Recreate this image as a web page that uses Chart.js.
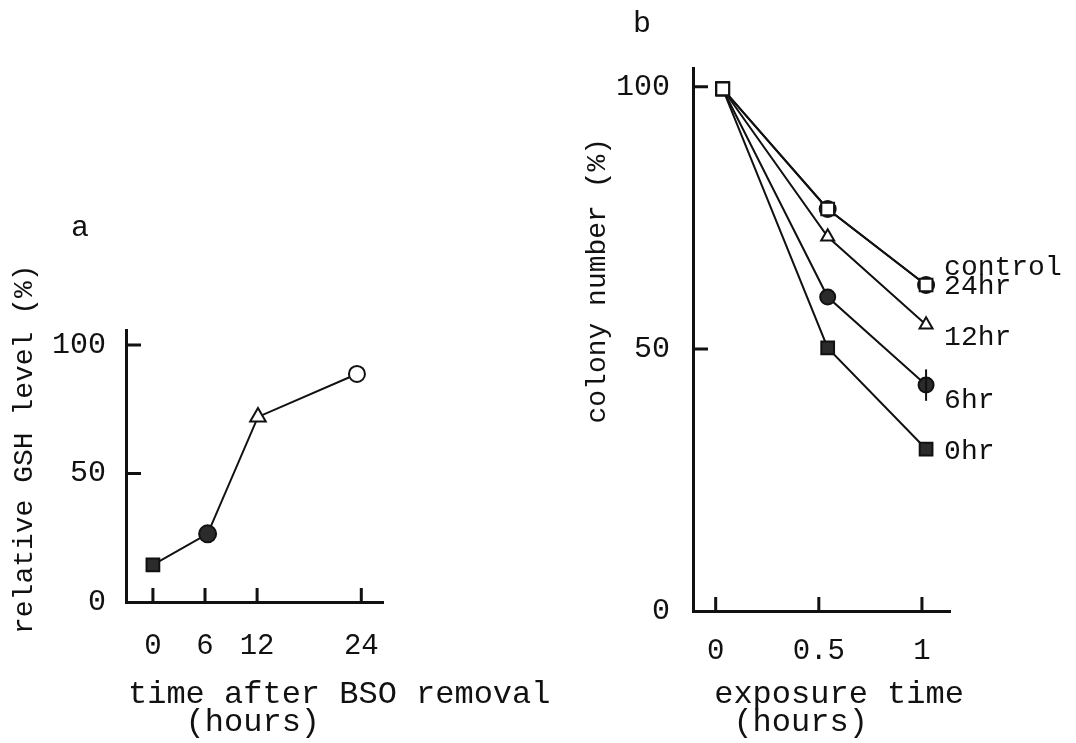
<!DOCTYPE html>
<html lang="en">

<head>
  <meta charset="UTF-8" />
  <title>GSH level | colony number</title>
  <script src="https://cdn.jsdelivr.net/npm/chart.js"></script>
  <style>
    body { margin: 0; background: #fff; }
    .wrap { position: relative; width: 1076px; height: 743px; }
    canvas { position: absolute; top: 0; }
    #graficoA { left: 0; }
    #graficoB { left: 560px; }
    .painel { position: absolute; font: 30px "Liberation Mono", "Courier New", monospace; line-height: 30px; color: #111; }
  </style>
</head>

<body>
  <div class="wrap">
    <canvas id="graficoA" width="560" height="743"></canvas>
    <canvas id="graficoB" width="516" height="743"></canvas>
    <div class="painel" style="left:71px; top:213px">a</div>
    <div class="painel" style="left:633px; top:9px">b</div>
  </div>

  <script>
    // painel a: GSH relativo apos remocao do BSO
    var horasA = [0, 6.3, 12.1, 23.5];
    var gshA = [14.4, 26.5, 72, 88.7];
    var xTicksA = [0, 6, 12, 24];
    var yTicksA = [0, 50, 100];

    // painel b: numero de colonias x tempo de exposicao
    var exposicaoB = [0.034, 0.543, 1.02];
    var controle = [99.6, 76.7, 62.2];
    var h24 = [99.6, 76.7, 62.2];
    var h12 = [99.6, 71.4, 54.6];
    var h6 = [99.6, 59.9, 43.1];
    var h0 = [99.6, 50.2, 30.9];
    var erro6 = [0, 0, 3];
    var xTicksB = [0, 0.5, 1];
    var yTicksB = [0, 50, 100];

    var FONTE = '"Liberation Mono", "Courier New", monospace';
    var PRETO = "#111";
    var CHEIO = "#2b2b2b";

    function pontos(xs, ys) {
      return xs.map(function (x, i) { return { x: x, y: ys[i] }; });
    }

    function fixarTicks(lista) {
      return function (s) {
        s.ticks = lista.map(function (v) { return { value: v }; });
      };
    }

    // ticks desenhados para dentro, como no original
    var marcasInternas = {
      id: "marcasInternas",
      afterDraw: function (chart) {
        var ctx = chart.ctx;
        var area = chart.chartArea;
        var sx = chart.scales.x;
        var sy = chart.scales.y;
        ctx.save();
        ctx.strokeStyle = PRETO;
        ctx.lineWidth = 3;
        ctx.beginPath();
        sx.ticks.forEach(function (t) {
          var px = sx.getPixelForValue(t.value);
          ctx.moveTo(px, area.bottom);
          ctx.lineTo(px, area.bottom - 14);
        });
        sy.ticks.forEach(function (t) {
          if (t.value == sy.min) return;
          var py = sy.getPixelForValue(t.value);
          ctx.moveTo(area.left, py);
          ctx.lineTo(area.left + 15, py);
        });
        ctx.stroke();

        // titulo do eixo x sem limite de largura (o do Chart.js comprime o texto)
        var t = sx.options.title;
        var lh = 28;
        var linhas = [].concat(t.text);
        ctx.font = t.font.size + "px " + FONTE;
        ctx.fillStyle = PRETO;
        ctx.textAlign = "left";
        ctx.textBaseline = "middle";
        var y0 = sx.bottom - t.padding.bottom - lh / 2 - lh * (linhas.length - 1);
        linhas.forEach(function (linha, i) {
          ctx.fillText(linha, sx.left + 2, y0 + i * lh);
        });
        ctx.restore();
      }
    };

    // barra de erro do 6hr e nomes das series
    var rotulosB = {
      id: "rotulosB",
      afterDatasetsDraw: function (chart) {
        var ctx = chart.ctx;
        var sx = chart.scales.x;
        var sy = chart.scales.y;
        ctx.save();
        ctx.strokeStyle = PRETO;
        ctx.lineWidth = 2;
        for (var i = 0; i < erro6.length; i++) {
          if (!erro6[i]) continue;
          var px = sx.getPixelForValue(exposicaoB[i]);
          ctx.beginPath();
          ctx.moveTo(px, sy.getPixelForValue(h6[i] - erro6[i]));
          ctx.lineTo(px, sy.getPixelForValue(h6[i] + erro6[i]));
          ctx.stroke();
        }
        ctx.font = "28px " + FONTE;
        ctx.fillStyle = PRETO;
        ctx.textBaseline = "middle";
        chart.data.datasets.forEach(function (ds) {
          var ult = ds.data[ds.data.length - 1];
          ctx.fillText(ds.label, sx.getPixelForValue(ult.x) + 18, sy.getPixelForValue(ult.y) + ds.rotuloDy);
        });
        ctx.restore();
      }
    };

    function eixoX(min, max, lista, altura, padTicks, titulo) {
      return {
        type: "linear",
        min: min,
        max: max,
        afterBuildTicks: fixarTicks(lista),
        afterFit: function (s) { s.height = altura; },
        grid: { display: false },
        border: { display: true, width: 3, color: PRETO },
        ticks: {
          autoSkip: false,
          maxRotation: 0,
          padding: padTicks,
          color: PRETO,
          font: { family: FONTE, size: 29 },
          callback: function (v) { return String(v); }
        },
        // desenhado pelo plugin marcasInternas
        title: {
          display: false,
          text: titulo,
          font: { family: FONTE, size: 32 },
          padding: { top: 0, bottom: 6 }
        }
      };
    }

    function eixoY(max, lista, largura, padTicks, titulo, padTitulo) {
      return {
        type: "linear",
        min: 0,
        max: max,
        afterBuildTicks: fixarTicks(lista),
        afterFit: function (s) { s.width = largura; },
        grid: { display: false },
        border: { display: true, width: 3, color: PRETO },
        ticks: { padding: padTicks, color: PRETO, font: { family: FONTE, size: 30 } },
        title: {
          display: true,
          text: titulo,
          color: PRETO,
          font: { family: FONTE, size: 28 },
          padding: { top: padTitulo, bottom: 0 }
        }
      };
    }

    // Grafico a
    new Chart(graficoA, {
      type: "line",
      data: {
        datasets: [{
          label: "GSH",
          data: pontos(horasA, gshA),
          borderColor: PRETO,
          borderWidth: 2,
          tension: 0,
          pointStyle: ["rect", "circle", "triangle", "circle"],
          pointRadius: [9, 8.5, 9, 8],
          pointBackgroundColor: [CHEIO, CHEIO, "#fff", "#fff"],
          pointBorderColor: PRETO,
          pointBorderWidth: 2
        }]
      },
      options: {
        responsive: false,
        animation: false,
        layout: { padding: { top: 330, right: 177, bottom: 0, left: 0 } },
        plugins: { legend: { display: false }, tooltip: { enabled: false } },
        scales: {
          x: eixoX(-3.1, 26.5, xTicksA, 141, 19, ["time after BSO removal", "   (hours)"]),
          y: eixoY(105.8, yTicksA, 126, 12, "  relative GSH level (%)", 8)
        }
      },
      plugins: [marcasInternas]
    });

    function serie(nome, valores, estilo, cheio, raio, dy) {
      return {
        label: nome,
        data: pontos(exposicaoB, valores),
        borderColor: PRETO,
        borderWidth: 2,
        tension: 0,
        pointStyle: ["rect", estilo, estilo],
        pointRadius: [9, raio, raio],
        pointBackgroundColor: ["#fff", cheio ? CHEIO : "#fff", cheio ? CHEIO : "#fff"],
        pointBorderColor: PRETO,
        pointBorderWidth: 2,
        rotuloDy: dy
      };
    }

    // Grafico b
    new Chart(graficoB, {
      type: "line",
      data: {
        datasets: [
          serie("control", controle, "rect", false, 9, -17),
          serie("24hr", h24, "circle", false, 8, 2),
          serie("12hr", h12, "triangle", false, 7.5, 13),
          serie("6hr", h6, "circle", true, 7.5, 15),
          serie("0hr", h0, "rect", true, 9, 3)
        ]
      },
      options: {
        responsive: false,
        animation: false,
        layout: { padding: { top: 68, right: 126, bottom: 0, left: 0 } },
        plugins: { legend: { display: false }, tooltip: { enabled: false } },
        scales: {
          x: eixoX(-0.11, 1.136, xTicksB, 132, 15, [" exposure time", "  (hours)"]),
          y: eixoY(103.6, yTicksB, 133, 15, "       colony number (%)", 21)
        }
      },
      plugins: [marcasInternas, rotulosB]
    });
  </script>
</body>

</html>
